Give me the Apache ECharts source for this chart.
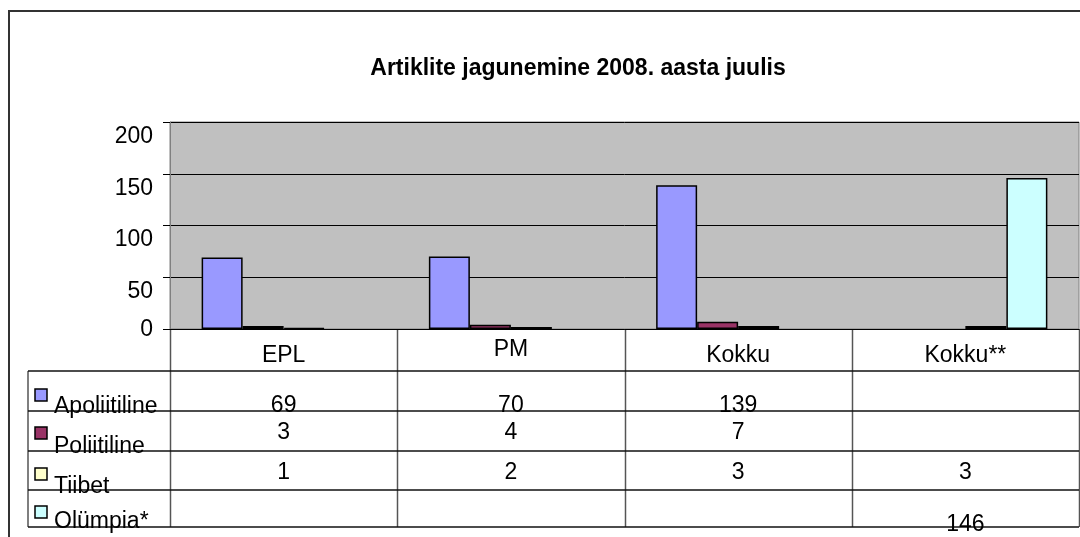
<!DOCTYPE html>
<html>
<head>
<meta charset="utf-8">
<script src="https://cdn.jsdelivr.net/npm/echarts@6/dist/echarts.min.js"></script>
<style>
  html, body { margin: 0; padding: 0; background: #fff; }
  #chart { width: 1080px; height: 537px; }
</style>
</head>
<body>
<div id="chart"></div>
<script>
  // data
  const categories = ['EPL', 'PM', 'Kokku', 'Kokku**']
  const seriesNames = ['Apoliitiline', 'Poliitiline', 'Tiibet', 'Olümpia*']
  const apoliitiline = [69, 70, 139, null]
  const poliitiline = [3, 4, 7, null]
  const tiibet = [1, 2, 3, 3]
  const olympia = [null, null, null, 146]
  const yTicks = [0, 50, 100, 150, 200]

  const seriesData = [apoliitiline, poliitiline, tiibet, olympia]
  const colors = ['#9999FF', '#993366', '#FFFFCC', '#CCFFFF']
  const FONT = '"Liberation Sans", Arial, sans-serif'
  const FS = 23

  const chart = echarts.init(document.getElementById('chart'))

  const option = {
    animation: false,
    textStyle: { fontFamily: FONT },
    title: {
      text: 'Artiklite jagunemine 2008. aasta juulis',
      left: 573,
      top: 52,
      textAlign: 'center',
      textStyle: { fontFamily: FONT, fontSize: 23, fontWeight: 'bold', color: '#000' }
    },
    grid: {
      left: 170,
      right: 1,
      top: 122,
      bottom: 208,
      show: true,
      backgroundColor: '#C0C0C0',
      borderColor: '#808080',
      borderWidth: 1
    },
    xAxis: {
      type: 'category',
      data: categories,
      axisLine: { lineStyle: { color: '#000', width: 1 } },
      axisTick: { show: false },
      axisLabel: {
        interval: 0,
        margin: 8,
        color: '#000',
        fontSize: FS,
        fontFamily: FONT,
        lineHeight: 26,
        // PM sits higher than the other labels in the original
        formatter: (v, i) => i === 1 ? v : '{lo|' + v + '}',
        rich: {
          lo: { fontSize: FS, fontFamily: FONT, color: '#000', lineHeight: 26, padding: [12, 0, 0, 0] }
        }
      }
    },
    yAxis: {
      type: 'value',
      min: yTicks[0],
      max: yTicks[yTicks.length - 1],
      interval: 50,
      axisLine: { show: true, lineStyle: { color: '#808080', width: 1 } },
      axisTick: { show: true, length: 7, lineStyle: { color: '#000' } },
      axisLabel: {
        margin: 17,
        color: '#000',
        fontSize: FS,
        fontFamily: FONT,
        lineHeight: 29,
        verticalAlign: 'top',
        showMinLabel: true,
        showMaxLabel: true,
        hideOverlap: false,
        // labels drawn a bit below their gridlines, except 0
        formatter: v => v === 0 ? '{z|0}' : String(v),
        rich: {
          z: { fontSize: FS, fontFamily: FONT, color: '#000', lineHeight: 2 }
        }
      },
      splitLine: { lineStyle: { color: '#000', width: 1 } }
    },
    series: seriesNames.map((name, i) => ({
      name: name,
      type: 'bar',
      barWidth: 41,
      barGap: '0%',
      itemStyle: { color: colors[i], borderColor: '#000', borderWidth: 1.5 },
      data: seriesData[i]
    }))
  }

  chart.setOption(option)

  // data table under the plot
  function drawTable() {
    const centers = categories.map(c => chart.convertToPixel({ xAxisIndex: 0 }, c))
    const band = centers[1] - centers[0]
    const xLeft = centers[0] - band / 2
    const xRight = centers[centers.length - 1] + band / 2
    const zeroY = chart.convertToPixel({ yAxisIndex: 0 }, 0)
    const legendLeft = 28
    const rowLines = [371, 411, 451, 490, 527]
    const valueY = [406, 433, 473, 525]
    const labelY = [407, 447, 487, 522]
    const markerY = [389, 427, 468, 506]

    const els = []
    // outer frame
    els.push({ type: 'polyline', shape: { points: [[9, 537], [9, 11], [1080, 11]] }, style: { stroke: '#333', lineWidth: 2, fill: null } })
    // column borders
    for (let i = 0; i <= categories.length; i++) {
      const x = Math.round(xLeft + band * i) + 0.5
      els.push({ type: 'line', shape: { x1: x, y1: zeroY, x2: x, y2: rowLines[rowLines.length - 1] }, style: { stroke: '#555', lineWidth: 1.5 } })
    }
    els.push({ type: 'line', shape: { x1: legendLeft, y1: rowLines[0], x2: legendLeft, y2: rowLines[rowLines.length - 1] }, style: { stroke: '#555', lineWidth: 1.5 } })
    rowLines.forEach(y => {
      els.push({ type: 'line', shape: { x1: legendLeft, y1: y, x2: xRight, y2: y }, style: { stroke: '#111', lineWidth: 1.5 } })
    })
    // legend keys
    seriesNames.forEach((name, r) => {
      els.push({ type: 'rect', shape: { x: 35, y: markerY[r], width: 12, height: 12 }, style: { fill: colors[r], stroke: '#000', lineWidth: 1.5 } })
      els.push({
        type: 'text', z: 10,
        style: { text: name, x: 54, y: labelY[r], font: FS + 'px ' + FONT, fill: '#000', align: 'left', verticalAlign: 'middle', textAlign: 'left', textVerticalAlign: 'middle' }
      })
      // values
      seriesData[r].forEach((v, c) => {
        if (v === null) return
        els.push({
          type: 'text', z: 10,
          style: { text: String(v), x: centers[c], y: valueY[r], font: FS + 'px ' + FONT, fill: '#000', align: 'center', verticalAlign: 'middle', textAlign: 'center', textVerticalAlign: 'middle' }
        })
      })
    })
    chart.setOption({ graphic: els })
  }

  drawTable()
</script>
</body>
</html>
